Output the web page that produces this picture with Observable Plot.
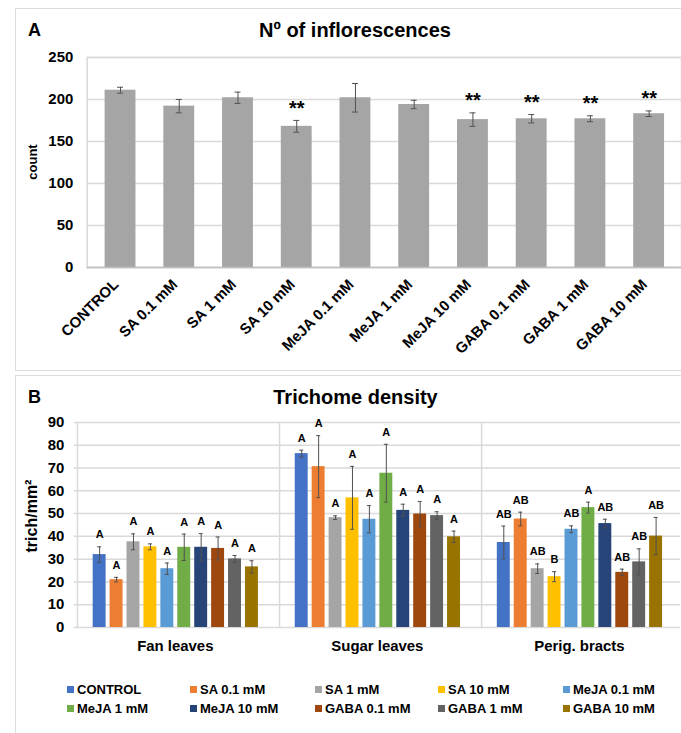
<!DOCTYPE html>
<html>
<head>
<meta charset="utf-8">
<script src="https://cdn.jsdelivr.net/npm/d3@7"></script>
<script src="https://cdn.jsdelivr.net/npm/@observablehq/plot@0.6"></script>
<style>
  html, body { margin: 0; padding: 0; background: #fff; }
  body { width: 681px; height: 733px; position: relative; overflow: hidden;
         font-family: "Liberation Sans", Arial, sans-serif; font-weight: bold; color: #000; }
  .panel { position: absolute; border: 1.5px solid #dcdcdc; border-right: none; box-sizing: border-box; }
  .abs { position: absolute; white-space: nowrap; }
  .title { font-size: 20px; line-height: 20px; text-align: center; }
  .tag { font-size: 18px; line-height: 18px; }
  .ylab { transform: translate(-50%, -50%) rotate(-90deg); }
  .legend-item { position: absolute; font-size: 13px; line-height: 13px; white-space: nowrap; }
  .legend-item span.sw { display: inline-block; width: 7px; height: 7px; margin-right: 3px; vertical-align: 1px; }
</style>
</head>
<body>
<div class="panel" style="left:15px; top:8px; width:700px; height:363px;"></div>
<div class="panel" style="left:15px; top:375px; width:700px; height:400px;"></div>

<div class="abs tag" style="left:28px; top:21px;">A</div>
<div class="abs title" style="left:0; width:710px; top:20px;">Nº of inflorescences</div>
<div class="abs ylab" style="left:32px; top:162px; font-size:13px;">count</div>
<div id="chartA" class="abs" style="left:15px; top:40px;"></div>

<div class="abs tag" style="left:28px; top:388px;">B</div>
<div class="abs title" style="left:0; width:711px; top:387px;">Trichome density</div>
<div class="abs ylab" style="left:32px; top:516px; font-size:16px;">trich/mm²</div>
<div id="chartB" class="abs" style="left:15px; top:405px;"></div>
<div id="legend"></div>

<script>
// Treatments (x categories of panel A, series of panel B)
const treatments = ["CONTROL", "SA 0.1 mM", "SA 1 mM", "SA 10 mM", "MeJA 0.1 mM",
                    "MeJA 1 mM", "MeJA 10 mM", "GABA 0.1 mM", "GABA 1 mM", "GABA 10 mM"];
const treatmentColors = ["#4472C4", "#ED7D31", "#A5A5A5", "#FFC000", "#5B9BD5",
                         "#70AD47", "#264478", "#9E480E", "#636363", "#997300"];

// Panel A: number of inflorescences (mean ± error)
const inflorescenceMean = [211, 192, 202, 168, 202, 194, 176, 177, 177, 183];
const inflorescenceErr  = [3.5, 8, 6.7, 7, 17, 5, 8, 5, 3.5, 3.3];
const inflorescenceSig  = ["", "", "", "**", "", "", "**", "**", "**", "**"];
const countTicks = [0, 50, 100, 150, 200, 250];

// Panel B: trichome density per tissue (mean ± error, Tukey letters)
const tissues = ["Fan leaves", "Sugar leaves", "Perig. bracts"];
const fanMean   = [32, 21, 37.6, 35.4, 25.8, 35.2, 35.2, 34.7, 30.1, 26.6];
const fanErr    = [3.4, 1, 3.5, 1.3, 2.5, 5.8, 6, 5, 1.5, 2.7];
const fanLetters = ["A", "A", "A", "A", "A", "A", "A", "A", "A", "A"];
const sugarMean = [76.3, 70.6, 48.2, 56.9, 47.5, 67.7, 51.4, 49.8, 49.1, 39.8];
const sugarErr  = [1.5, 13.6, 0.8, 13.8, 6, 12.7, 2.7, 5.5, 1.7, 2.5];
const sugarLetters = ["A", "A", "A", "A", "A", "A", "A", "A", "A", "A"];
const bractMean = [37.3, 47.6, 25.8, 22.3, 43.1, 52.6, 45.6, 24.2, 28.8, 40.1];
const bractErr  = [7.2, 3, 2.1, 2.2, 1.5, 2.4, 1.9, 1.4, 5.7, 8.2];
const bractLetters = ["AB", "AB", "AB", "B", "AB", "A", "AB", "AB", "AB", "AB"];
const densityTicks = [0, 10, 20, 30, 40, 50, 60, 70, 80, 90];

const font = {fontFamily: "'Liberation Sans', Arial, sans-serif", fontWeight: "bold", color: "#000", background: "transparent", overflow: "visible"};
const gridColor = "#d9d9d9";
const errColor = "#505050";

// ---- Panel A ----
const inflo = treatments.map((t, i) => ({
  treatment: t, mean: inflorescenceMean[i], err: inflorescenceErr[i], sig: inflorescenceSig[i]
}));

const chartA = Plot.plot({
  width: 669, height: 330,
  marginLeft: 72, marginRight: 0, marginTop: 17, marginBottom: 102,
  style: {...font, fontSize: "15px"},
  x: {domain: treatments, paddingInner: 0.48, paddingOuter: 0.24, axis: null},
  y: {domain: [0, 250], ticks: countTicks, label: null, tickSize: 0, tickPadding: 14},
  marks: [
    Plot.ruleY(countTicks, {stroke: gridColor, strokeWidth: 1.5}),
    Plot.frame({stroke: gridColor, strokeWidth: 1.5}),
    Plot.barY(inflo, {x: "treatment", y: "mean", fill: "#a5a5a5"}),
    Plot.ruleY([0], {stroke: "#bfbfbf", strokeWidth: 1.5}),
    Plot.ruleX(inflo, {x: "treatment", y1: d => d.mean - d.err, y2: d => d.mean + d.err, stroke: errColor, strokeWidth: 1}),
    Plot.tickY(inflo, {x: "treatment", y: d => d.mean + d.err, stroke: errColor, insetLeft: 12.5, insetRight: 12.5}),
    Plot.tickY(inflo, {x: "treatment", y: d => d.mean - d.err, stroke: errColor, insetLeft: 12.5, insetRight: 12.5}),
    Plot.text(inflo, {x: "treatment", y: d => d.mean + d.err, text: "sig", dy: -12, fontSize: 20, fontWeight: "bold", fill: "#000"}),
    // slanted category labels under the bars
    Plot.text(inflo, {x: "treatment", frameAnchor: "bottom", text: "treatment", rotate: -45,
                      textAnchor: "end", dx: -1, dy: 18, fontSize: 15, fontWeight: "bold", fill: "#000"})
  ]
});
document.getElementById("chartA").append(chartA);

// ---- Panel B ----
const tissueMeans = [fanMean, sugarMean, bractMean];
const tissueErrs = [fanErr, sugarErr, bractErr];
const tissueLetters = [fanLetters, sugarLetters, bractLetters];
const density = tissues.flatMap((tissue, k) => treatments.map((t, i) => ({
  tissue, treatment: t, mean: tissueMeans[k][i], err: tissueErrs[k][i], letter: tissueLetters[k][i]
})));

// left edge of each tissue group, measured from the first bar's centre
const widthB = 669, marginLeftB = 58;
const padInnerB = 0.26, padOuterB = 0.89;
const facetW = (widthB - marginLeftB) / tissues.length;
const stepB = facetW / (treatments.length - padInnerB + 2 * padOuterB);
const groupEdgeOffset = stepB * padOuterB + stepB * (1 - padInnerB) / 2;

const chartB = Plot.plot({
  width: widthB, height: 258,
  marginLeft: marginLeftB, marginRight: 0, marginTop: 17, marginBottom: 35,
  style: {...font, fontSize: "15px"},
  facet: {data: density, x: "tissue"},
  fx: {domain: tissues, padding: 0, label: null, axis: "bottom", tickSize: 0, tickPadding: 13},
  x: {domain: treatments, paddingInner: padInnerB, paddingOuter: padOuterB, axis: null},
  y: {domain: [0, 90], ticks: densityTicks, label: null, tickSize: 0, tickPadding: 10},
  color: {domain: treatments, range: treatmentColors},
  marks: [
    Plot.ruleY(densityTicks, {stroke: gridColor, strokeWidth: 1.5}),
    Plot.ruleX([treatments[0]], {x: d => d, dx: -groupEdgeOffset, stroke: gridColor, strokeWidth: 1.5}),
    Plot.barY(density, {x: "treatment", y: "mean", fill: "treatment"}),
    Plot.ruleX(density, {x: "treatment", y1: d => d.mean - d.err, y2: d => d.mean + d.err, stroke: errColor, strokeWidth: 1}),
    Plot.tickY(density, {x: "treatment", y: d => d.mean + d.err, stroke: errColor, insetLeft: 4.5, insetRight: 4.5}),
    Plot.tickY(density, {x: "treatment", y: d => d.mean - d.err, stroke: errColor, insetLeft: 4.5, insetRight: 4.5}),
    Plot.text(density, {x: "treatment", y: d => d.mean + d.err, text: "letter", dy: -12, fontSize: 11, fontWeight: "bold", fill: "#000"})
  ]
});
document.getElementById("chartB").append(chartB);

// ---- Legend (two rows of five) ----
const legend = document.getElementById("legend");
const colX = [67, 190, 315, 438, 563];
const rowY = [683, 702];
treatments.forEach((t, i) => {
  const item = document.createElement("div");
  item.className = "legend-item";
  item.style.left = colX[i % 5] + "px";
  item.style.top = rowY[Math.floor(i / 5)] + "px";
  item.innerHTML = `<span class="sw" style="background:${treatmentColors[i]}"></span>${t}`;
  legend.append(item);
});
</script>
</body>
</html>
